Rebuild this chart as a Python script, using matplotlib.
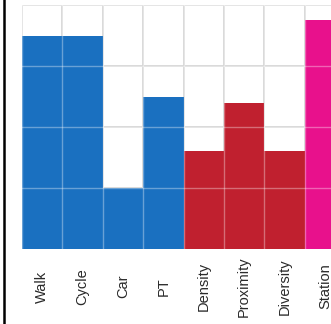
import matplotlib
matplotlib.use("Agg")
import matplotlib.pyplot as plt
from matplotlib.lines import Line2D

categories = ["Walk", "Cycle", "Car", "PT", "Density", "Proximity", "Diversity", "Station"]
values = [3.5, 3.5, 1.0, 2.5, 1.6, 2.4, 1.6, 3.75]
groups = ["mode", "mode", "mode", "mode", "built", "built", "built", "access"]
group_colors = {"mode": "#1a70c0", "built": "#c0202f", "access": "#e8118c"}

plt.rcParams["font.family"] = ["Liberation Sans", "DejaVu Sans"]

W, H = 331, 324
fig = plt.figure(figsize=(W / 100, H / 100), dpi=100)
col_px = 40.4
ax = fig.add_axes([22 / W, (H - 249) / H, len(categories) * col_px / W, 244 / H])

x = list(range(len(categories)))
ax.bar(x, values, width=1.0, color=[group_colors[g] for g in groups],
       linewidth=0, zorder=2)

ax.set_xlim(-0.5, len(categories) - 0.5)
ax.set_ylim(0, 4)
for s in ax.spines.values():
    s.set_visible(False)

# grid under the bars (grey on white) and a soft white overlay across the bars
ys = [1, 2, 3, 4]
xs = [i - 0.5 for i in range(len(categories) + 1)]
for yv in ys:
    ax.axhline(yv, color="#d4d4d4", lw=1.3, zorder=1)
    ax.axhline(yv, color="white", alpha=0.35, lw=1.0, zorder=3)
for xv in xs:
    ax.axvline(xv, color="#d4d4d4", lw=1.3, zorder=1)
    ax.axvline(xv, color="white", alpha=0.35, lw=1.0, zorder=3)

ax.set_yticks([])
ax.set_xticks(x)
ax.set_xticklabels(categories, rotation=90, va="center", ha="center",
                   fontsize=10.5, color="#2a2a2a")
ax.tick_params(axis="x", length=0, pad=27)

# frame line at the left edge of the figure
fig.add_artist(Line2D([4 / W, 4 / W], [0, 1], color="black", lw=1.8,
                      transform=fig.transFigure))

fig.savefig("out.png", dpi=100)
